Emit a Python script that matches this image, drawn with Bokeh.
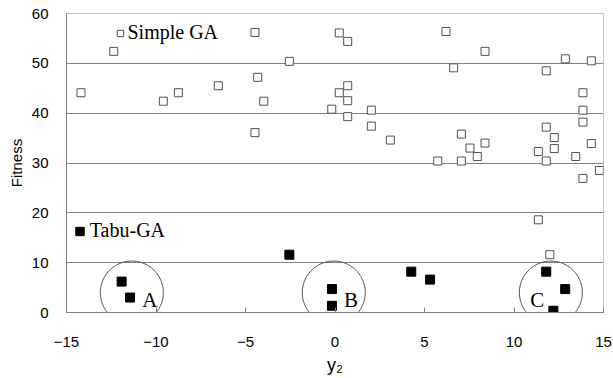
import numpy as np
from bokeh.plotting import figure
from bokeh.models import Range1d, FixedTicker, Legend, LegendItem, PolyAnnotation
from bokeh.core.properties import value
from bokeh.embed import file_html
from bokeh.resources import INLINE

# ---- data ----
sga_x = [-14.19, -12.36, -9.59, -8.75, -6.52, -4.47, -4.32, -3.98, -4.47, -2.55,
         0.24, 0.71, 6.2, 8.38, 6.63, 11.8, 12.87, 14.32, 0.71, 0.24, 0.71, -0.18,
         0.71, 2.03, 2.03, 3.09, 5.74, 7.06, 7.06, 7.54, 7.95, 8.38, 11.8, 12.25,
         11.36, 12.25, 11.8, 13.45, 13.85, 13.85, 13.85, 14.32, 13.85, 14.77,
         11.36, 12.0]
sga_y = [44.1, 52.4, 42.4, 44.1, 45.5, 56.2, 47.2, 42.4, 36.1, 50.4,
         56.1, 54.4, 56.4, 52.4, 49.1, 48.5, 50.9, 50.5, 45.5, 44.1, 42.5, 40.8,
         39.3, 40.6, 37.4, 34.6, 30.4, 30.4, 35.8, 33.0, 31.3, 34.0, 37.2, 35.1,
         32.3, 32.9, 30.4, 31.3, 44.1, 40.6, 38.2, 33.9, 26.9, 28.5,
         18.6, 11.6]
tabu_x = [-11.92, -11.45, -2.55, -0.17, -0.17, 4.26, 5.31, 11.8, 12.86, 12.2]
tabu_y = [6.2, 3.0, 11.6, 4.7, 1.35, 8.2, 6.6, 8.2, 4.7, 0.35]

cluster_names = ["A", "B", "C"]
cluster_x = [-11.35, -0.07, 12.06]
cluster_y = [4.0, 4.0, 4.0]
label_x = [-10.35, 0.9, 11.3]
label_y = [2.6, 2.6, 2.6]

x_ticks = [-15, -10, -5, 0, 5, 10, 15]
x_tick_labels = ["\u221215", "\u221210", "\u22125", "0", "5", "10", "15"]
y_ticks = [0, 10, 20, 30, 40, 50, 60]
y_grid = [10, 20, 30, 40, 50]
x_lim = (-15, 15)
y_lim = (0, 60)

# ---- layout ----
W, H = 613, 378
BL, BR, BT, BB = 66, 10, 13, 66
FW, FH = W - BL - BR, H - BT - BB

p = figure(width=W, height=H, title=None,
           x_range=Range1d(*x_lim), y_range=Range1d(*y_lim),
           output_backend="svg", toolbar_location=None,
           min_border_left=BL, min_border_right=BR,
           min_border_top=BT, min_border_bottom=BB)

p.outline_line_color = "#c0c0c0"
p.background_fill_color = "white"
p.border_fill_color = "white"

p.xgrid.visible = False
p.ygrid.ticker = FixedTicker(ticks=y_grid)
p.ygrid.grid_line_color = "#808080"
p.ygrid.grid_line_width = 1

ax = p.xaxis[0]
ax.ticker = FixedTicker(ticks=x_ticks)
ax.major_label_overrides = dict(zip(x_ticks, x_tick_labels))
ax.major_tick_in = 5
ax.major_tick_out = 0
ax.minor_tick_line_color = None
ax.axis_line_color = "#808080"
ax.major_tick_line_color = "#808080"
ax.major_label_text_font = "Liberation Sans"
ax.major_label_text_font_size = "15px"
ax.major_label_text_color = "black"
ax.major_label_standoff = 24
ax.axis_label = "y\u2082"
ax.axis_label_text_font = "Liberation Sans"
ax.axis_label_text_font_size = "18px"
ax.axis_label_text_font_style = "normal"
ax.axis_label_text_color = "black"
ax.axis_label_standoff = 5

ay = p.yaxis[0]
ay.ticker = FixedTicker(ticks=y_ticks)
ay.major_tick_in = 0
ay.major_tick_out = 0
ay.minor_tick_line_color = None
ay.axis_line_color = "#808080"
ay.major_label_text_font = "Liberation Sans"
ay.major_label_text_font_size = "15px"
ay.major_label_text_color = "black"
ay.major_label_standoff = 18
ay.axis_label = "Fitness"
ay.axis_label_text_font = "Liberation Sans"
ay.axis_label_text_font_size = "15px"
ay.axis_label_text_font_style = "normal"
ay.axis_label_text_color = "black"
ay.axis_label_standoff = 4

# cluster circles (annotations so that they are not clipped by the frame)
R = 31.5
px_x = FW / (x_lim[1] - x_lim[0])
px_y = FH / (y_lim[1] - y_lim[0])
t = np.linspace(0, 2 * np.pi, 120)
for cx, cy in zip(cluster_x, cluster_y):
    xs = list(cx + (R / px_x) * np.cos(t))
    ys = list(cy + (R / px_y) * np.sin(t))
    p.add_layout(PolyAnnotation(xs=xs, ys=ys, fill_color=None, fill_alpha=0,
                                line_color="#505050", line_alpha=1.0, line_width=1))

r_s = p.scatter(sga_x, sga_y, marker="square", size=8, fill_color="white",
                line_color="#505050", line_width=1)
r_t = p.scatter(tabu_x, tabu_y, marker="square", size=9, fill_color="black",
                line_color="black", line_width=1)

p.text(x=label_x, y=label_y, text=cluster_names, text_font=value("Liberation Serif"),
       text_font_size="21px", text_align="center", text_baseline="middle",
       text_color="black")

def make_legend(renderer, label, loc, gw):
    return Legend(items=[LegendItem(label=label, renderers=[renderer])],
                  location=loc, padding=0, margin=0, spacing=0,
                  border_line_color=None, background_fill_alpha=0,
                  glyph_width=gw, glyph_height=24, label_standoff=0,
                  label_text_font="Liberation Serif", label_text_font_size="20px",
                  label_text_color="black", label_height=24)

p.add_layout(make_legend(r_s, "Simple GA", (45.5, 267.5), 16))
p.add_layout(make_legend(r_t, "Tabu-GA", (2.8, 69.3), 21))

open("out.html", "w").write(file_html(p, INLINE))
